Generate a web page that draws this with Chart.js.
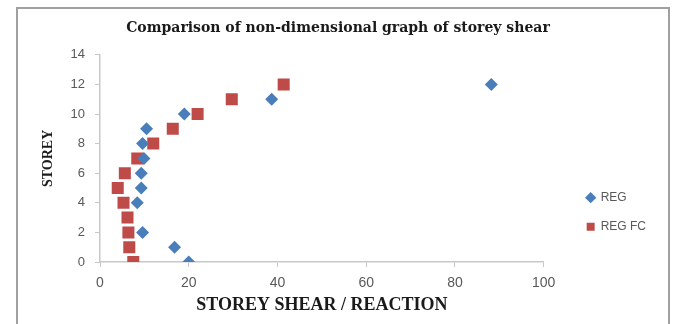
<!DOCTYPE html>
<html>
<head>
<meta charset="utf-8">
<script src="https://cdn.jsdelivr.net/npm/chart.js@4/dist/chart.umd.min.js"></script>
<style>
  html, body { margin: 0; padding: 0; background: #ffffff; }
  #wrap { width: 676px; height: 324px; position: relative; }
</style>
</head>
<body>
<div id="wrap"><canvas id="c" width="676" height="324"></canvas></div>
<script>
// Storey numbers (y) and non-dimensional storey shear / reaction (x)
const storeys = [0, 1, 2, 3, 4, 5, 6, 7, 8, 9, 10, 11, 12];
const regShear   = [20.0, 16.8, 9.6, null, 8.4, 9.3, 9.3, 9.9, 9.6, 10.5, 19.0, 38.7, 88.2];
const regFcShear = [7.5, 6.6, 6.4, 6.2, 5.3, 4.0, 5.6, 8.4, 12.0, 16.4, 22.0, 29.7, 41.4];
const xTicks = [0, 20, 40, 60, 80, 100];
const yTicks = [0, 2, 4, 6, 8, 10, 12, 14];

function toPoints(xs) {
  const pts = [];
  xs.forEach((v, i) => { if (v !== null) pts.push({ x: v, y: storeys[i] }); });
  return pts;
}

// Outer chart frame
const framePlugin = {
  id: 'frame',
  beforeDraw(chart) {
    const ctx = chart.ctx;
    ctx.save();
    ctx.fillStyle = '#ffffff';
    ctx.fillRect(0, 0, chart.width, chart.height);
    ctx.strokeStyle = '#a0a0a0';
    ctx.lineWidth = 2;
    ctx.strokeRect(17, 8, 652, 340);
    ctx.restore();
  }
};

const axisGray = '#c8c8c8';
const tickColor = '#595959';

new Chart(document.getElementById('c'), {
  type: 'scatter',
  data: {
    datasets: [
      {
        label: 'REG',
        data: toPoints(regShear),
        pointStyle: 'rectRot',
        pointRadius: 6.5,
        pointHoverRadius: 6.5,
        backgroundColor: '#4a7ebb',
        borderColor: '#4a7ebb',
        borderWidth: 0
      },
      {
        label: 'REG FC',
        data: toPoints(regFcShear),
        pointStyle: 'rect',
        pointRadius: 8.5,
        pointHoverRadius: 8.5,
        backgroundColor: '#be4b48',
        borderColor: '#be4b48',
        borderWidth: 0
      }
    ]
  },
  options: {
    responsive: false,
    animation: false,
    devicePixelRatio: 1,
    layout: { padding: { top: 8, left: 20, right: 20, bottom: 8 } },
    plugins: {
      tooltip: { enabled: false },
      title: {
        display: true,
        text: 'Comparison of non-dimensional graph of storey shear',
        color: '#1a1a1a',
        font: { family: 'DejaVu Serif', size: 14, weight: 'bold' },
        padding: { top: 12, bottom: 18 }
      },
      legend: {
        position: 'right',
        align: 'center',
        title: {
          display: true,
          text: ' ',
          font: { size: 12 },
          padding: { top: 86, bottom: 0 }
        },
        labels: {
          usePointStyle: true,
          boxWidth: 8,
          boxHeight: 8,
          padding: 17,
          color: tickColor,
          font: { family: 'Liberation Sans', size: 12 }
        }
      }
    },
    scales: {
      x: {
        type: 'linear',
        min: 0,
        max: 100,
        afterBuildTicks(scale) { scale.ticks = xTicks.map(v => ({ value: v })); },
        afterFit(scale) { scale.height = 54; },
        border: { display: true, color: axisGray, width: 1.5 },
        grid: { drawOnChartArea: false, drawTicks: true, tickLength: 5, color: axisGray },
        ticks: { color: tickColor, padding: 8, font: { family: 'Liberation Sans', size: 14 } },
        title: {
          display: true,
          text: 'STOREY SHEAR / REACTION',
          color: '#1a1a1a',
          font: { family: 'Liberation Serif', size: 18, weight: 'bold' },
          padding: { top: 2, bottom: 0 }
        }
      },
      y: {
        type: 'linear',
        min: 0,
        max: 14,
        afterBuildTicks(scale) { scale.ticks = yTicks.map(v => ({ value: v })); },
        afterFit(scale) { scale.width = 80; },
        border: { display: true, color: axisGray, width: 1.5 },
        grid: { drawOnChartArea: false, drawTicks: true, tickLength: 5, color: axisGray },
        ticks: { color: tickColor, padding: 10, font: { family: 'Liberation Sans', size: 13 } },
        title: {
          display: true,
          text: 'STOREY',
          color: '#1a1a1a',
          font: { family: 'Liberation Serif', size: 14, weight: 'bold' },
          padding: { top: 20, bottom: 0 }
        }
      },
      // empty spacer between the plot and the legend
      gap: {
        type: 'linear',
        position: 'right',
        display: true,
        afterFit(scale) { scale.width = 26; },
        border: { display: false },
        grid: { display: false },
        ticks: { display: false }
      }
    }
  },
  plugins: [framePlugin]
});
</script>
</body>
</html>
